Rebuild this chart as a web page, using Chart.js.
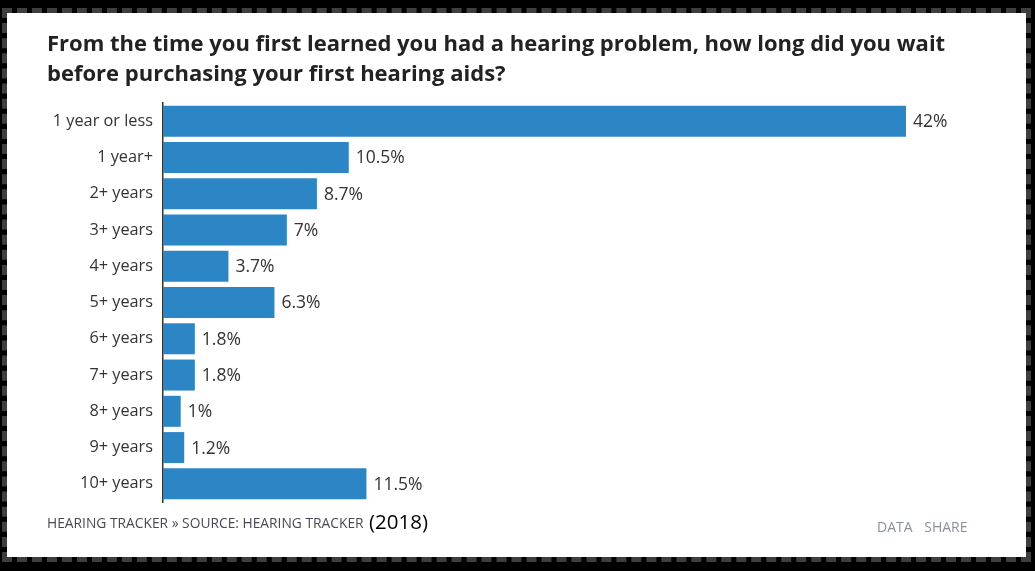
<!DOCTYPE html>
<html>
<head>
<meta charset="utf-8">
<script src="https://cdn.jsdelivr.net/npm/chart.js@4"></script>
<style>
  body { margin: 0; background: #000; width: 1035px; height: 571px; overflow: hidden; font-family: "Open Sans", sans-serif; }
  #frame { position: absolute; left: 2px; top: 8px; width: 1019px; height: 544px; background: #fff; background-clip: padding-box; border: 5px dashed #3e3e3e; }
  #c { position: absolute; left: 0; top: 0; }
  .foot { position: absolute; white-space: nowrap; }
  #src { left: 47px; top: 513px; font-size: 13.8px; color: #4a4a55; }
  #year { left: 369px; top: 507px; font-size: 20.5px; color: #000; }
  #links { left: 877px; top: 517px; font-size: 14px; color: #8a9099; word-spacing: 8px; }
</style>
</head>
<body>
<div id="frame"></div>
<canvas id="c" width="1035" height="571"></canvas>
<div class="foot" id="src">HEARING TRACKER » SOURCE: HEARING TRACKER</div>
<div class="foot" id="year">(2018)</div>
<div class="foot" id="links">DATA SHARE</div>
<script>
var titleLines = [
  'From the time you first learned you had a hearing problem, how long did you wait',
  'before purchasing your first hearing aids?'
];
var categories = ['1 year or less', '1 year+', '2+ years', '3+ years', '4+ years', '5+ years',
  '6+ years', '7+ years', '8+ years', '9+ years', '10+ years'];
var values = [42, 10.5, 8.7, 7, 3.7, 6.3, 1.8, 1.8, 1, 1.2, 11.5];

// labels at the end of each bar
var valueLabels = {
  id: 'valueLabels',
  afterDatasetsDraw: function(chart) {
    var ctx = chart.ctx;
    var meta = chart.getDatasetMeta(0);
    ctx.save();
    ctx.font = '17.5px "Open Sans", sans-serif';
    ctx.fillStyle = '#333';
    ctx.textBaseline = 'middle';
    ctx.textAlign = 'left';
    meta.data.forEach(function(bar, i) {
      ctx.fillText(values[i] + '%', bar.x + 7, bar.y + 1);
    });
    ctx.restore();
  }
};

var ctx = document.getElementById('c');
var chart = new Chart(ctx, {
  type: 'bar',
  data: {
    labels: categories,
    datasets: [{
      data: values,
      backgroundColor: '#2c86c6',
      borderWidth: 0,
      barPercentage: 0.855,
      categoryPercentage: 1
    }]
  },
  options: {
    indexAxis: 'y',
    responsive: false,
    animation: false,
    layout: { padding: { left: 47, top: 30, right: 80, bottom: 69 } },
    plugins: {
      legend: { display: false },
      tooltip: { enabled: false },
      title: {
        display: true,
        text: titleLines,
        align: 'start',
        color: '#222',
        font: { family: '"Open Sans", sans-serif', size: 22, weight: 'bold', lineHeight: 30 / 22 },
        padding: { top: 0, bottom: 13 }
      }
    },
    scales: {
      x: { display: false, min: 0, max: 44.77 },
      y: {
        grid: { display: false, drawTicks: false },
        border: { display: true, color: '#333', width: 1.5 },
        ticks: { color: '#333', padding: 10, font: { family: '"Open Sans", sans-serif', size: 16.3 } },
        afterFit: function(axis) { axis.width = 116; }
      }
    }
  },
  plugins: [valueLabels]
});
</script>
</body>
</html>
